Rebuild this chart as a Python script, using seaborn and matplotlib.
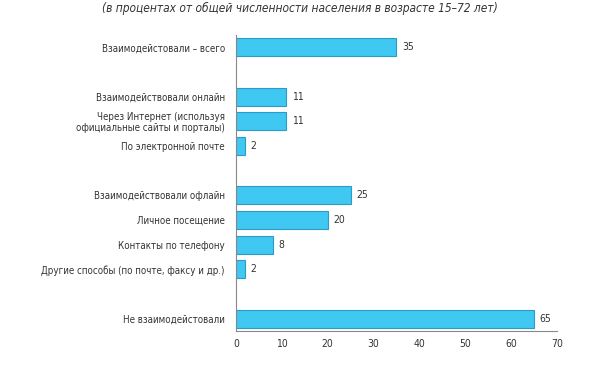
import matplotlib
matplotlib.use("Agg")
import matplotlib.pyplot as plt
import seaborn as sns
import pandas as pd
import numpy as np

categories = [
    "Взаимодейстовали – всего",
    " ",
    "Взаимодействовали онлайн",
    "Через Интернет (используя\nофициальные сайты и порталы)",
    "По электронной почте",
    "  ",
    "Взаимодействовали офлайн",
    "Личное посещение",
    "Контакты по телефону",
    "Другие способы (по почте, факсу и др.)",
    "   ",
    "Не взаимодейстовали",
]
values = [35, np.nan, 11, 11, 2, np.nan, 25, 20, 8, 2, np.nan, 65]
xticks = [0, 10, 20, 30, 40, 50, 60, 70]
title = "(в процентах от общей численности населения в возрасте 15–72 лет)"

sns.set_style("white")
plt.rcParams["font.family"] = ["DejaVu Sans"]
plt.rcParams["font.stretch"] = "condensed"

df = pd.DataFrame({"cat": categories, "val": values})

fig = plt.figure(figsize=(6, 3.65), dpi=100)
ax = fig.add_axes([0.3933, 0.0932, 0.535, 0.811])

sns.barplot(data=df, x="val", y="cat", order=categories, orient="h",
            color="#3EC8F2", saturation=1, width=0.72,
            edgecolor="#2E9BC4", linewidth=0.8, ax=ax, errorbar=None)

for i, v in enumerate(values):
    if not np.isnan(v):
        ax.text(v + 1.2, i, f"{int(v)}", va="center", ha="left",
                fontsize=7.5, color="#333333", stretch="condensed")

ax.set_xlim(0, 70)
ax.set_ylim(len(categories) - 0.5, -0.5)
ax.set_xticks(xticks)
ax.set_xticklabels([str(t) for t in xticks], fontsize=7.5, color="#333333",
                   stretch="condensed")
ax.set_yticks(range(len(categories)))
ax.set_yticklabels(categories, fontsize=7.0, color="#333333",
                   stretch="condensed", linespacing=1.1)
ax.tick_params(axis="y", which="major", length=0, pad=8)
ax.set_yticks([-0.5, 0.5, 1.5, 4.5, 5.5, 9.5, 10.5, 11.5], minor=True)
ax.tick_params(axis="y", which="minor", length=3, color="#888888", width=0.8)
ax.tick_params(axis="x", which="major", length=3, color="#888888", width=0.8, pad=3)
ax.set_xlabel("")
ax.set_ylabel("")

for s in ["top", "right"]:
    ax.spines[s].set_visible(False)
for s in ["left", "bottom"]:
    ax.spines[s].set_color("#888888")
    ax.spines[s].set_linewidth(0.8)

fig.text(0.5, 0.977, title, ha="center", va="center", fontsize=8.6,
         style="italic", color="#333333", stretch="condensed")

fig.savefig("out.png", dpi=100)
